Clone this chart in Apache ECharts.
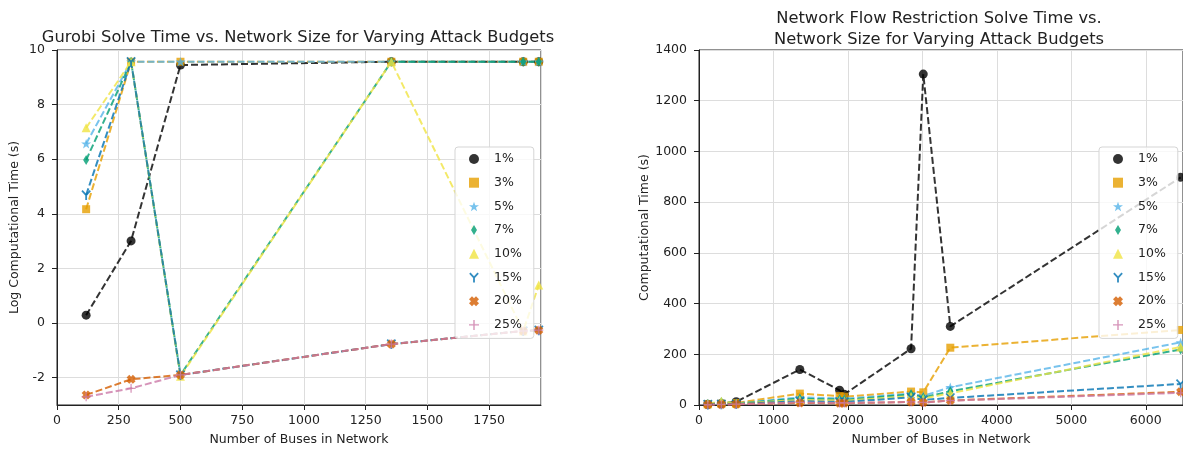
<!DOCTYPE html>
<html>
<head>
<meta charset="utf-8">
<script src="https://cdn.jsdelivr.net/npm/echarts@6/dist/echarts.min.js"></script>
<style>
  body { margin: 0; background: #fff; }
  #main { width: 1183px; height: 451px; }
</style>
</head>
<body>
<div id="main"></div>
<script>
// attack budgets (legend entries)
var budgets = ['1%', '3%', '5%', '7%', '10%', '15%', '20%', '25%'];
var colors = ['#000000', '#E69F00', '#56B4E9', '#009E73', '#F0E442', '#0072B2', '#D55E00', '#CC79A7'];

// left: gurobi, log solve time
var gurobiBuses = [118, 300, 500, 1354, 1888, 1951];
var gurobi1 = [0.29, 3.01, 9.45, 9.57, 9.57, 9.57];
var gurobi3 = [4.17, 9.57, 9.57, 9.57, 9.57, 9.57];
var gurobi5 = [6.57, 9.57, 9.57, 9.57, 9.57, 9.57];
var gurobi7 = [5.97, 9.57, -1.9, 9.57, 9.57, 9.57];
var gurobi10 = [7.15, 9.57, -1.95, 9.57, -0.29, 1.39];
var gurobi15 = [4.69, 9.57, -1.9, -0.77, -0.29, -0.26];
var gurobi20 = [-2.63, -2.06, -1.9, -0.77, -0.29, -0.26];
var gurobi25 = [-2.7, -2.39, -1.9, -0.77, -0.29, -0.26];

// right: network flow restriction, solve time in seconds
var flowBuses = [118, 300, 500, 1354, 1888, 1951, 2848, 3012, 3375, 6468];
var flow1 = [3, 6, 13, 140, 58, 42, 222, 1305, 310, 898];
var flow3 = [3, 5, 8, 45, 35, 33, 53, 50, 226, 296];
var flow5 = [2, 5, 6, 30, 26, 25, 45, 36, 70, 247];
var flow7 = [4, 12, 6, 25, 22, 20, 42, 30, 54, 219];
var flow10 = [5, 15, 6, 20, 18, 17, 35, 26, 46, 229];
var flow15 = [2, 3, 4, 15, 12, 12, 30, 20, 28, 83];
var flow20 = [1, 2, 3, 8, 7, 7, 12, 10, 18, 52];
var flow25 = [1, 2, 3, 10, 8, 8, 12, 10, 17, 48];

var gurobiTimes = [gurobi1, gurobi3, gurobi5, gurobi7, gurobi10, gurobi15, gurobi20, gurobi25];
var flowTimes = [flow1, flow3, flow5, flow7, flow10, flow15, flow20, flow25];

var FONT = 'DejaVu Sans';
var TXT = '#222';

var markers = [
  {symbol: 'circle', size: 9},
  {symbol: 'rect', size: 8},
  {symbol: 'path://M5,0 L6.18,3.38 L9.76,3.45 L6.9,5.62 L7.94,9.05 L5,7 L2.06,9.05 L3.1,5.62 L0.24,3.45 L3.82,3.38 Z', size: 10},
  {symbol: 'path://M3,0 L6,5 L3,10 L0,5 Z', size: 10},
  {symbol: 'triangle', size: 9},
  {symbol: 'path://M4.1,10 L5.9,10 L5.9,5.5 L9.7,1.4 L8.4,0.2 L5,3.9 L1.6,0.2 L0.3,1.4 L4.1,5.5 Z', size: 10},
  {symbol: 'path://M3,0 L5,2 L7,0 L10,3 L8,5 L10,7 L7,10 L5,8 L3,10 L0,7 L2,5 L0,3 Z', size: 9},
  {symbol: 'path://M4.3,0 H5.7 V4.3 H10 V5.7 H5.7 V10 H4.3 V5.7 H0 V4.3 H4.3 Z', size: 9}
];

function plain(v) { return String(v); }

function axisCommon() {
  return {
    axisLine: {show: true, onZero: false, lineStyle: {color: TXT, width: 1}},
    axisTick: {show: true, inside: false, length: 5, lineStyle: {color: TXT}},
    axisLabel: {color: TXT, fontFamily: FONT, fontSize: 12.5, formatter: plain},
    splitLine: {show: true, lineStyle: {color: '#dddddd', width: 1}},
    nameTextStyle: {color: TXT, fontFamily: FONT, fontSize: 12.5}
  };
}

function legendFor(left) {
  return {
    orient: 'vertical',
    left: left,
    top: 147,
    padding: [5.5, 12, 7, 14],
    itemWidth: 10,
    itemHeight: 10,
    itemGap: 10.7,
    symbolKeepAspect: true,
    backgroundColor: 'rgba(255,255,255,0.8)',
    borderColor: '#d5d5d5',
    borderWidth: 1,
    borderRadius: 3,
    textStyle: {color: TXT, fontFamily: FONT, fontSize: 12.5, lineHeight: 10, padding: [0, 0, 0, 10]},
    data: budgets.map(function (b, i) {
      return {name: b, icon: markers[i].symbol, itemStyle: {color: colors[i], opacity: 0.8}};
    })
  };
}

var series = [];
function addSeries(xs, table, gridIndex) {
  table.forEach(function (ys, i) {
    series.push({
      name: budgets[i],
      type: 'line',
      xAxisIndex: gridIndex,
      yAxisIndex: gridIndex,
      data: xs.map(function (x, j) { return [x, ys[j]]; }),
      symbol: markers[i].symbol,
      symbolSize: markers[i].size,
      symbolKeepAspect: true,
      showAllSymbol: true,
      clip: false,
      lineStyle: {color: colors[i], width: 2, type: [7, 3], opacity: 0.8},
      itemStyle: {color: colors[i], opacity: 0.8}
    });
  });
}
addSeries(gurobiBuses, gurobiTimes, 0);
addSeries(flowBuses, flowTimes, 1);

var chart = echarts.init(document.getElementById('main'));
var xa0 = axisCommon(), xa1 = axisCommon(), ya0 = axisCommon(), ya1 = axisCommon();

chart.setOption({
  animation: false,
  backgroundColor: '#fff',
  title: [
    {
      text: 'Gurobi Solve Time vs. Network Size for Varying Attack Budgets',
      left: 293, top: 25, textAlign: 'center',
      textStyle: {color: TXT, fontFamily: FONT, fontSize: 16.3, fontWeight: 'normal'}
    },
    {
      text: 'Network Flow Restriction Solve Time vs.\nNetwork Size for Varying Attack Budgets',
      left: 934, top: 3, textAlign: 'center',
      textStyle: {color: TXT, fontFamily: FONT, fontSize: 16.3, fontWeight: 'normal', lineHeight: 21}
    }
  ],
  legend: [legendFor(455), legendFor(1099)],
  grid: [
    {left: 57, top: 50, width: 484, height: 361, show: true, borderColor: TXT, borderWidth: 1, backgroundColor: 'transparent'},
    {left: 699, top: 50, width: 487, height: 361, show: true, borderColor: TXT, borderWidth: 1, backgroundColor: 'transparent'}
  ],
  xAxis: [
    Object.assign(xa0, {
      type: 'value', gridIndex: 0, min: 0, max: 1960, interval: 250,
      name: 'Number of Buses in Network', nameLocation: 'middle', nameGap: 28,
      axisLabel: Object.assign(xa0.axisLabel, {margin: 9, showMaxLabel: false})
    }),
    Object.assign(xa1, {
      type: 'value', gridIndex: 1, min: 0, max: 6500, interval: 1000,
      name: 'Number of Buses in Network', nameLocation: 'middle', nameGap: 28,
      axisLabel: Object.assign(xa1.axisLabel, {margin: 9, showMaxLabel: false})
    })
  ],
  yAxis: [
    Object.assign(ya0, {
      type: 'value', gridIndex: 0, min: -3, max: 10, splitNumber: 6,
      name: 'Log Computational Time (s)', nameLocation: 'middle', nameGap: 36,
      axisLabel: Object.assign(ya0.axisLabel, {margin: 12, showMinLabel: false})
    }),
    Object.assign(ya1, {
      type: 'value', gridIndex: 1, min: 0, max: 1400, interval: 200,
      name: 'Computational Time (s)', nameLocation: 'middle', nameGap: 45,
      axisLabel: Object.assign(ya1.axisLabel, {margin: 12})
    })
  ],
  series: series
});
</script>
</body>
</html>
